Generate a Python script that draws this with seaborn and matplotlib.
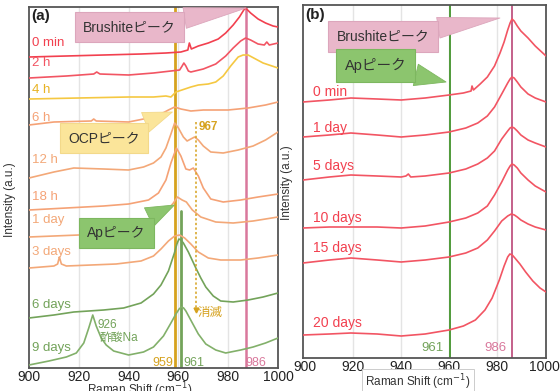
import matplotlib
matplotlib.use("Agg")
import matplotlib.pyplot as plt
import seaborn as sns

# ---------------- data ----------------
# Panel (a): wavenumber (cm-1) and stacked intensity (a.u.)
a_labels = ["0 min", "2 h", "4 h", "6 h", "12 h", "18 h", "1 day", "3 days", "6 days", "9 days"]

a_0min_w = [900, 915, 930, 945, 955, 961, 963.8, 964.4, 965.2, 968, 972, 976, 979, 982, 984.5, 986, 986.8, 987.8, 989, 992, 995, 998, 1000]
a_0min_h = [311, 312, 313, 314, 315, 316, 318, 325, 319, 322, 325, 329, 335, 343, 351, 357, 360, 358, 355, 349, 345, 342, 341]

a_2h_w = [900, 915, 926, 927.2, 928.5, 940, 950, 957, 960.5, 961.5, 962.2, 963, 964, 965, 970, 975, 979, 982, 985, 987, 989, 992, 994.5, 995.5, 996.5, 1000]
a_2h_h = [290, 292, 294, 296, 294, 293, 295, 297, 298, 302, 305, 302, 297, 296, 299, 304, 312, 320, 327, 330, 328, 324, 323, 326, 323, 325]

a_4h_w = [900, 920, 940, 950, 955, 957, 959, 965, 968, 972, 975, 978, 981, 984, 986, 988, 991, 994, 1000]
a_4h_h = [269, 270, 271, 271, 272, 271, 276, 281, 283, 284, 286, 292, 302, 311, 313, 313, 309, 305, 300]

a_6h_w = [900, 910, 925, 926, 927, 940, 948, 953, 956, 958.5, 961, 963, 965, 970, 980, 988, 995, 1000]
a_6h_h = [243, 246, 247, 249, 247, 246, 250, 254, 258, 261, 259, 258, 257, 258, 258, 260, 263, 266]

a_12h_w = [900, 910, 918, 930, 940, 946, 950, 953, 955, 957, 958.5, 960, 962, 963.5, 965, 966.5, 968, 970, 973, 978, 984, 990, 995, 1000]
a_12h_h = [190, 196, 200, 199, 198, 201, 205, 211, 220, 234, 245, 240, 231, 227, 229, 231, 228, 222, 216, 215, 218, 222, 228, 236]

a_18h_w = [900, 915, 930, 940, 948, 952, 955, 957, 959.2, 961, 963, 964.5, 966, 968, 970, 973, 978, 985, 992, 1000]
a_18h_h = [158, 160, 162, 164, 168, 175, 188, 205, 220, 212, 199, 198, 200, 192, 180, 169, 166, 168, 171, 174]

a_1d_w = [900, 920, 940, 949, 955, 958, 959.6, 961.5, 963.2, 965.6, 969, 975, 982, 990, 1000]
a_1d_h = [131, 133, 136, 143, 156, 165, 171, 168, 166, 158, 151, 146, 145, 147, 151]

a_3d_w = [900, 910, 911.5, 912.2, 913, 915, 925, 935, 945, 950, 953, 956, 958.5, 960.5, 962.5, 965, 968, 972, 977, 985, 992, 1000]
a_3d_h = [100, 102, 104, 111, 104, 102, 103, 104, 107, 112, 119, 127, 132, 133, 130, 124, 116, 110, 108, 108, 110, 113]

a_6d_w = [900, 910, 918, 930, 938, 945, 950, 953, 956, 958.4, 959.4, 960.2, 961, 962, 964, 967, 969, 971, 974, 977, 982, 988, 994, 1000]
a_6d_h = [50, 53, 56, 58, 60, 65, 74, 83, 97, 115, 124, 129, 128, 125, 116, 100, 90, 81, 72, 67, 66, 68, 71, 75]

a_9d_w = [900, 908, 915, 919, 922, 924, 925.6, 927, 929, 931, 934, 940, 946, 950, 954, 957, 959, 960.3, 961.2, 962.1, 963, 965.6, 968, 971, 975, 979, 985, 990, 995, 1000]
a_9d_h = [3, 7, 11, 15, 25, 40, 53, 42, 30, 23, 17, 13, 16, 21, 32, 45, 54, 59, 61, 60, 57, 45, 34, 24, 18, 15, 18, 21, 25, 30]

# Panel (b)
b_labels = ["0 min", "1 day", "5 days", "10 days", "15 days", "20 days"]

b_0min_w = [899, 910, 919, 930, 940, 950, 960, 966, 969.2, 969.6, 970.2, 973, 976, 979, 981.3, 983, 984.5, 985.5, 986.3, 987.2, 988.5, 990, 993, 996, 1000.5]
b_0min_h = [256, 258, 260, 259, 258, 260, 263, 265, 267, 272, 268, 274, 281, 292, 305, 316, 328, 335, 339, 337, 332, 327, 320, 312, 302]

b_1d_w = [899, 910, 919, 930, 940, 950, 960, 967, 972, 976, 979, 982, 984.5, 985.5, 986.3, 987.2, 988.5, 990, 993, 996, 1000.5]
b_1d_h = [221, 223, 225, 223, 221, 223, 226, 230, 235, 242, 251, 264, 275, 279, 281, 280, 276, 271, 264, 260, 256]

b_5d_w = [899, 910, 919, 930, 940, 942, 943, 944, 950, 960, 967, 972, 976, 979, 982, 984.5, 985.5, 986.3, 987.2, 988.5, 990, 993, 996, 1000.5]
b_5d_h = [178, 181, 183, 182, 181, 182, 184, 181, 182, 185, 189, 194, 200, 207, 219, 227, 230, 231, 230, 227, 223, 218, 215, 211]

b_10d_w = [899, 910, 919, 930, 940, 950, 960, 967, 972, 976, 979, 982, 984.5, 985.5, 986.3, 987.2, 988.5, 990, 993, 996, 1000.5]
b_10d_h = [130, 131, 131, 131, 130, 132, 136, 140, 145, 152, 163, 176, 188, 192, 194, 193, 190, 185, 178, 172, 166]

b_15d_w = [899, 910, 919, 930, 940, 950, 960, 967, 972, 976, 979, 982, 984.5, 986, 987.3, 988.5, 990, 993, 996, 1000.5]
b_15d_h = [95, 98, 100, 98, 96, 98, 101, 105, 110, 118, 127, 137, 142, 144, 143, 141, 138, 134, 131, 128]

b_20d_w = [899, 910, 919, 930, 940, 950, 960, 966, 971, 975, 978, 981, 983, 984.5, 985.4, 986.4, 987.5, 989.6, 992, 995, 998, 1000.5]
b_20d_h = [23, 24, 25, 24, 22, 24, 28, 32, 38, 48, 60, 78, 92, 101, 104, 103, 100, 94, 86, 77, 70, 66]

ticks = [900, 920, 940, 960, 980, 1000]

# ---------------- style ----------------
sns.set_theme(style="white")
plt.rcParams["font.family"] = ["Liberation Sans", "Noto Sans CJK JP", "DejaVu Sans"]

RED = "#f2404f"
RED2 = "#f25563"
YEL = "#f5c842"
YEL_T = "#e8b323"
ORG = "#f5a276"
ORG2 = "#f3a878"
GRN = "#73a35a"
GOLD = "#d6a21e"
PINK = "#d9789c"

fig = plt.figure(figsize=(5.6, 3.91), dpi=100)
axa = fig.add_axes([29 / 560, 1 - 368 / 391, 249 / 560, 361 / 391])
axb = fig.add_axes([303 / 560, 1 - 358 / 391, 243 / 560, 353 / 391])

for ax in (axa, axb):
    ax.set_xticks(ticks)
    ax.set_yticks([])
    for g in [920, 940, 960, 980]:
        ax.axvline(g, color="#e4e4e4", lw=1.0, zorder=0)
    for s in ax.spines.values():
        s.set_color("#555555")
        s.set_linewidth(1.3)
    ax.tick_params(axis="x", length=0, pad=1.5, labelsize=10, colors="#222222")

# ---------------- panel (a) ----------------
axa.set_xlim(900, 1000)
axa.set_ylim(0, 361)
a_series = [
    (a_0min_w, a_0min_h, RED, RED),
    (a_2h_w, a_2h_h, RED2, RED2),
    (a_4h_w, a_4h_h, YEL, YEL_T),
    (a_6h_w, a_6h_h, ORG, ORG),
    (a_12h_w, a_12h_h, ORG2, ORG2),
    (a_18h_w, a_18h_h, ORG, ORG),
    (a_1d_w, a_1d_h, ORG2, ORG2),
    (a_3d_w, a_3d_h, ORG2, ORG2),
    (a_6d_w, a_6d_h, GRN, GRN),
    (a_9d_w, a_9d_h, "#82b06a", GRN),
]
a_label_h = [325, 305, 278, 250, 208, 171, 148, 116, 63, 20]
for (w, h, c, tc), lab, lh in zip(a_series, a_labels, a_label_h):
    sns.lineplot(x=w, y=h, ax=axa, color=c, lw=1.2, sort=False, zorder=3)
    axa.text(901.2, lh, lab, color=tc, fontsize=9.5, va="center", ha="left", zorder=5)

axa.axvline(958.8, color=GOLD, lw=2.0, zorder=2)
axa.plot([961.2, 961.2], [0, 157], color=GRN, lw=2.0, zorder=2)
axa.axvline(987.2, color=PINK, lw=1.8, zorder=2)
axa.plot([967, 967], [246, 60], color=GOLD, lw=1.1, ls=(0, (1.5, 1.5)), zorder=4)
axa.plot([967], [58], marker="v", color=GOLD, ms=3.5, zorder=4)
axa.text(968, 241, "967", color=GOLD, fontsize=8.5, fontweight="bold", va="center")
axa.text(967.6, 55, "消滅", color=GOLD, fontsize=9, va="center")
axa.text(927.6, 43, "926", color=GRN, fontsize=8.5, va="center")
axa.text(928.4, 30, "酢酸Na", color=GRN, fontsize=8.5, va="center")
axa.text(953.6, 5, "959", color=GOLD, fontsize=9, ha="center", va="center")
axa.text(966.4, 5, "961", color=GRN, fontsize=9, ha="center", va="center")
axa.text(991.2, 5, "986", color=PINK, fontsize=9, ha="center", va="center")
axa.text(901.0, 352, "(a)", fontsize=11, fontweight="bold", va="center", color="#222222")


def callout(ax, text, xy, xytext, fc, ec, size=10, w=1.5):
    ax.annotate(text, xy=xy, xytext=xytext, xycoords="data", textcoords="data",
                ha="center", va="center", fontsize=size, color="#333333", zorder=6,
                bbox=dict(boxstyle="square,pad=0.6", fc=fc, ec=ec, lw=0.8),
                arrowprops=dict(arrowstyle=f"wedge,tail_width={w},shrink_factor=0.5",
                                fc=fc, ec=ec, lw=0.6, shrinkA=0, shrinkB=0))


callout(axa, "Brushiteピーク", (987.2, 360), (940.4, 341), "#e9b7ca", "#dca6bc")
callout(axa, "OCPピーク", (957.6, 256), (930.0, 230), "#fbe59a", "#f3d98a")
callout(axa, "Apピーク", (958.4, 163), (935.0, 135), "#8cc56e", "#7db75f")

# ---------------- panel (b) ----------------
axb.set_xlim(899, 1000.5)
axb.set_ylim(0, 353)
b_series = [
    (b_0min_w, b_0min_h), (b_1d_w, b_1d_h), (b_5d_w, b_5d_h),
    (b_10d_w, b_10d_h), (b_15d_w, b_15d_h), (b_20d_w, b_20d_h),
]
b_label_h = [266, 230, 192, 140, 110, 35]
for (w, h), lab, lh in zip(b_series, b_labels, b_label_h):
    sns.lineplot(x=w, y=h, ax=axb, color=RED2, lw=1.2, sort=False, zorder=3)
    axb.text(903.3, lh, lab, color=RED, fontsize=10, va="center", ha="left", zorder=5)

axb.axvline(960.4, color="#4f9a3a", lw=1.4, zorder=2)
axb.axvline(986.25, color="#c4608a", lw=1.4, zorder=2)
axb.text(953.3, 10, "961", color=GRN, fontsize=9.5, ha="center", va="center")
axb.text(979.2, 10, "986", color=PINK, fontsize=9.5, ha="center", va="center")
axb.text(900.0, 343, "(b)", fontsize=11, fontweight="bold", va="center", color="#222222")
callout(axb, "Brushiteピーク", (981.25, 340), (932.5, 321.5), "#e9b7ca", "#dca6bc")
callout(axb, "Apピーク", (958.75, 276), (929.4, 292.5), "#8cc56e", "#7db75f", size=10.5)

# ---------------- axis titles ----------------
fig.text(10 / 560, 1 - 200 / 391, "Intensity (a.u.)", rotation=90, fontsize=8.5,
         ha="center", va="center", color="#333333")
fig.text(287 / 560, 1 - 183 / 391, "Intensity (a.u.)", rotation=90, fontsize=8.5,
         ha="center", va="center", color="#333333")
fig.text(140 / 560, 1 - 390 / 391, "Raman Shift (cm$^{-1}$)", fontsize=8.5,
         ha="center", va="center", color="#333333")
fig.text(418 / 560, 1 - 382 / 391, "Raman Shift (cm$^{-1}$)", fontsize=8.5,
         ha="center", va="center", color="#333333",
         bbox=dict(boxstyle="square,pad=0.3", fc="white", ec="#cccccc", lw=0.7))

fig.savefig("out.png", dpi=100)
